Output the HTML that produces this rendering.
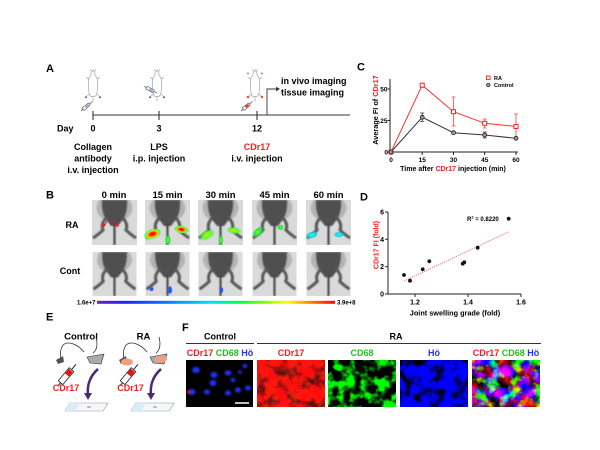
<!DOCTYPE html>
<html><head><meta charset="utf-8"><style>html,body{margin:0;padding:0;background:#fff}svg{display:block}</style></head>
<body>
<svg width="600" height="450" viewBox="0 0 600 450" xmlns="http://www.w3.org/2000/svg" font-family="Liberation Sans, Arial, sans-serif" font-weight="bold">
<defs>
  <filter id="bl" x="-20%" y="-20%" width="140%" height="140%"><feGaussianBlur stdDeviation="0.7"/></filter>
  <filter id="bl2" x="-50%" y="-50%" width="200%" height="200%"><feGaussianBlur stdDeviation="1"/></filter>
  <filter id="fR" x="0" y="0" width="1" height="1" color-interpolation-filters="sRGB">
    <feTurbulence type="fractalNoise" baseFrequency="0.09" numOctaves="3" seed="7"/>
    <feColorMatrix type="matrix" values="2.4 0 0 0 -0.3  0 0.15 0 0 0  0 0 0.1 0 0  0 0 0 0 1"/>
  </filter>
  <filter id="fG" x="0" y="0" width="1" height="1" color-interpolation-filters="sRGB">
    <feTurbulence type="fractalNoise" baseFrequency="0.09" numOctaves="3" seed="7"/>
    <feColorMatrix type="matrix" values="0 0 0 0 0  0 4.5 0 0 -1.95  0 0 0 0 0  0 0 0 0 1"/>
  </filter>
  <filter id="fB" x="0" y="0" width="1" height="1" color-interpolation-filters="sRGB">
    <feTurbulence type="fractalNoise" baseFrequency="0.09" numOctaves="3" seed="7"/>
    <feColorMatrix type="matrix" values="0 0 0 0 0  0 0 0 0 0  0 0 4 0 -1.15  0 0 0 0 1"/>
  </filter>
  <filter id="fM" x="0" y="0" width="1" height="1" color-interpolation-filters="sRGB">
    <feTurbulence type="fractalNoise" baseFrequency="0.09" numOctaves="3" seed="7"/>
    <feColorMatrix type="matrix" values="2.4 0 0 0 -0.8  0 4 0 0 -1.85  0 -1.8 3.5 0 -0.35  0 0 0 0 1"/>
  </filter>
  <linearGradient id="cbar" x1="0" x2="1" y1="0" y2="0">
    <stop offset="0" stop-color="#7020c0"/><stop offset="0.12" stop-color="#2020ff"/>
    <stop offset="0.3" stop-color="#0080ff"/><stop offset="0.48" stop-color="#00e0ff"/>
    <stop offset="0.6" stop-color="#00ff40"/><stop offset="0.7" stop-color="#80ff00"/>
    <stop offset="0.8" stop-color="#ffff00"/><stop offset="0.9" stop-color="#ff8000"/>
    <stop offset="1" stop-color="#ff0000"/>
  </linearGradient>
  <radialGradient id="hot"><stop offset="0" stop-color="#ff0000"/><stop offset="0.35" stop-color="#ff3000"/><stop offset="0.6" stop-color="#ffd000"/><stop offset="0.85" stop-color="#40ff40"/><stop offset="1" stop-color="#00ff80" stop-opacity="0"/></radialGradient>
  <radialGradient id="warm"><stop offset="0" stop-color="#ffd000"/><stop offset="0.5" stop-color="#60ff20"/><stop offset="1" stop-color="#00ff60" stop-opacity="0"/></radialGradient>
  <radialGradient id="grn"><stop offset="0" stop-color="#90ff00"/><stop offset="0.6" stop-color="#20e040"/><stop offset="1" stop-color="#00e060" stop-opacity="0"/></radialGradient>
  <radialGradient id="cy"><stop offset="0" stop-color="#40ffe0"/><stop offset="0.6" stop-color="#00d8e0"/><stop offset="1" stop-color="#00c0e0" stop-opacity="0"/></radialGradient>
  <radialGradient id="blu"><stop offset="0" stop-color="#2060ff"/><stop offset="0.6" stop-color="#2050ff"/><stop offset="1" stop-color="#2050ff" stop-opacity="0"/></radialGradient>
  <symbol id="ms" viewBox="0 0 45 45">
    <rect width="45" height="45" fill="#dadada"/>
    <g filter="url(#bl)">
      <ellipse cx="22.5" cy="8" rx="18" ry="14" fill="#9a9a9a" opacity="0.6"/>
      <path d="M10,0 H35 C36,10 33,18 29,22 L26,26 L19,26 L16,22 C12,18 9,10 10,0 Z" fill="#505050"/>
      <path d="M15,17 C11,21 9,25 11,30 C8,33 4,36 1,38" stroke="#555" stroke-width="3" fill="none"/>
      <path d="M30,17 C34,21 36,25 34,30 C37,33 41,36 44,38" stroke="#555" stroke-width="3" fill="none"/>
      <path d="M22.5,24 L22.5,45" stroke="#3a3a3a" stroke-width="2"/>
    </g>
  </symbol>
  <symbol id="mo" viewBox="0 0 20 34">
    <g fill="none" stroke="#a8a8a8" stroke-width="0.7">
      <path d="M8.5,3 C8,5 8.5,7 7,8.5 C5,10 5.5,14 5.5,18 C5.5,23 6,27 8,28.5 L12,28.5 C14,27 14.5,23 14.5,18 C14.5,14 15,10 13,8.5 C11.5,7 12,5 11.5,3 Z"/>
      <path d="M8.5,3 L7,1.3 M11.5,3 L13,1.3 M9.3,2 L10.7,2 M6,11 L3,9.5 M14,11 L17,9.5 M6.5,26 L3,29 M13.5,26 L17,29 M10,28.5 L10,33.5"/>
    </g>
    <circle cx="3" cy="29.2" r="0.8" fill="#222"/><circle cx="17" cy="29.2" r="0.8" fill="#222"/>
  </symbol>
</defs>

<!-- ============ Panel A ============ -->
<text x="46" y="72" font-size="11">A</text>
<use href="#mo" x="83" y="68" width="20" height="34"/>
<use href="#mo" x="147" y="68" width="20" height="34"/>
<use href="#mo" x="245" y="68" width="20" height="34"/>
<circle cx="248" cy="97" r="1.2" fill="#ff4020"/><circle cx="262" cy="97" r="1.2" fill="#ff4020"/>
<circle cx="248" cy="73.5" r="0.9" fill="#ff4020"/><circle cx="262" cy="73.5" r="0.9" fill="#ff4020"/>
<g transform="translate(87,106) rotate(-40)"><line x1="-8" y1="0" x2="7" y2="0" stroke="#333" stroke-width="0.6"/><rect x="-5" y="-1.5" width="8" height="3" fill="#fff" stroke="#333" stroke-width="0.5"/><rect x="-2" y="-1" width="4" height="2" fill="#8fb0e0"/></g>
<g transform="translate(151,90) rotate(28)"><line x1="-8" y1="0" x2="7" y2="0" stroke="#333" stroke-width="0.6"/><rect x="-5" y="-1.5" width="8" height="3" fill="#fff" stroke="#333" stroke-width="0.5"/><rect x="-2" y="-1" width="4" height="2" fill="#8fb0e0"/></g>
<g transform="translate(247,106) rotate(-40)"><line x1="-8" y1="0" x2="7" y2="0" stroke="#333" stroke-width="0.6"/><rect x="-5" y="-1.5" width="8" height="3" fill="#fff" stroke="#333" stroke-width="0.5"/><rect x="-2" y="-1" width="4" height="2" fill="#ff2010"/></g>
<line x1="93" y1="115" x2="350" y2="115" stroke="#333" stroke-width="1.1"/>
<g stroke="#333" stroke-width="1.1"><line x1="93" y1="111" x2="93" y2="120"/><line x1="159" y1="111" x2="159" y2="120"/><line x1="257" y1="111" x2="257" y2="120"/></g>
<path d="M267,115 V89 H277" fill="none" stroke="#333" stroke-width="0.9"/>
<polygon points="276,86.8 280,89 276,91.2" fill="#333"/>
<text x="281" y="84" font-size="9">in vivo imaging</text>
<text x="281" y="95.5" font-size="9">tissue imaging</text>
<text x="57" y="131.5" font-size="9">Day</text>
<g font-size="9" text-anchor="middle">
  <text x="93" y="131.5">0</text><text x="159" y="131.5">3</text><text x="257" y="131.5">12</text>
  <text x="93" y="150">Collagen</text><text x="93" y="161.5">antibody</text><text x="93" y="173">i.v. injection</text>
  <text x="159" y="150">LPS</text><text x="159" y="161.5">i.p. injection</text>
  <text x="257" y="150" fill="#ff1a1a">CDr17</text><text x="257" y="161.5">i.v. injection</text>
</g>

<!-- ============ Panel C ============ -->
<text x="357" y="70.5" font-size="11">C</text>
<g stroke="#222" stroke-width="1" fill="none">
  <path d="M390,79 V152 H518"/>
  <path d="M387.5,152 H390 M387.5,120.5 H390 M387.5,89 H390"/>
  <path d="M391,152 V155 M422.2,152 V155 M453.5,152 V155 M484.7,152 V155 M516,152 V155"/>
</g>
<g font-size="6.5" text-anchor="end"><text x="388" y="154.5">0</text><text x="387.5" y="123">25</text><text x="387.5" y="91.5">50</text></g>
<g font-size="6.5" text-anchor="middle"><text x="391" y="162">0</text><text x="422.2" y="162">15</text><text x="453.5" y="162">30</text><text x="484.7" y="162">45</text><text x="516" y="162">60</text></g>
<text transform="translate(378,110) rotate(-90)" font-size="7.3" text-anchor="middle">Average FI of <tspan fill="#ff1a1a">CDr17</tspan></text>
<text x="453" y="171" font-size="7" text-anchor="middle">Time after <tspan fill="#ff1a1a">CDr17</tspan> injection (min)</text>
<g stroke="#ff4040" stroke-width="0.8">
  <path d="M422.2,82.5 V88 M453.5,97 V126 M484.7,119 V128 M516,114 V139"/>
  <path d="M451.5,97 H455.5 M451.5,126 H455.5 M482.7,119 H486.7 M482.7,128 H486.7 M514,114 H518 M514,139 H518"/>
</g>
<g stroke="#333" stroke-width="0.8">
  <path d="M422.2,113 V121.5 M453.5,130.5 V135 M484.7,132 V138 M516,137 V139.5"/>
  <path d="M420.2,113 H424.2 M420.2,121.5 H424.2 M482.7,132 H486.7 M482.7,138 H486.7"/>
</g>
<polyline points="391,152 422.2,85.2 453.5,111.7 484.7,123.3 516,126.5" fill="none" stroke="#ff3030" stroke-width="1"/>
<polyline points="391,152 422.2,117.3 453.5,132.7 484.7,135 516,138.3" fill="none" stroke="#333" stroke-width="1"/>
<g fill="#fff" stroke="#ff2020" stroke-width="1">
  <rect x="389" y="150" width="4" height="4"/><rect x="420.2" y="83.2" width="4" height="4"/><rect x="451.5" y="109.7" width="4" height="4"/><rect x="482.7" y="121.3" width="4" height="4"/><rect x="514" y="124.5" width="4" height="4"/>
</g>
<g fill="#999" stroke="#222" stroke-width="0.8">
  <circle cx="391" cy="152" r="2"/><circle cx="422.2" cy="117.3" r="2"/><circle cx="453.5" cy="132.7" r="2"/><circle cx="484.7" cy="135" r="2"/><circle cx="516" cy="138.3" r="2"/>
</g>
<rect x="486.5" y="76" width="3.6" height="3.6" fill="#fff" stroke="#ff2020" stroke-width="0.9"/>
<circle cx="488.3" cy="85" r="1.8" fill="#999" stroke="#222" stroke-width="0.7"/>
<text x="494" y="80" font-size="5.5">RA</text>
<text x="494" y="87" font-size="5.5">Control</text>

<!-- ============ Panel B ============ -->
<text x="46" y="198.5" font-size="11">B</text>
<g font-size="9.5" text-anchor="middle">
  <text x="114" y="198">0 min</text><text x="167.5" y="198">15 min</text><text x="220.5" y="198">30 min</text><text x="274.5" y="198">45 min</text><text x="328.5" y="198">60 min</text>
</g>
<text x="72" y="228" font-size="9" text-anchor="middle">RA</text>
<text x="70" y="274" font-size="9" text-anchor="middle">Cont</text>
<use href="#ms" x="92" y="200" width="45" height="45"/>
<use href="#ms" x="145" y="200" width="45" height="45"/>
<use href="#ms" x="198" y="200" width="45" height="45"/>
<use href="#ms" x="252" y="200" width="45" height="45"/>
<use href="#ms" x="306" y="200" width="45" height="45"/>
<use href="#ms" x="92" y="252" width="45" height="44"/>
<use href="#ms" x="145" y="252" width="45" height="44"/>
<use href="#ms" x="198" y="252" width="45" height="44"/>
<use href="#ms" x="252" y="252" width="45" height="44"/>
<use href="#ms" x="306" y="252" width="45" height="44"/>
<g stroke="#ff1010" stroke-width="1.1" fill="#ff1010">
  <line x1="107" y1="221" x2="104" y2="226"/><polygon points="102.5,227.5 103,223.5 106,225" stroke="none"/>
  <line x1="114" y1="221" x2="117" y2="226"/><polygon points="118.5,227.5 118,223.5 115,225" stroke="none"/>
</g>
<ellipse cx="152.5" cy="234" rx="9" ry="5" fill="url(#hot)" transform="rotate(-18 152.5 234)"/>
<ellipse cx="181.5" cy="229.5" rx="7.5" ry="3.8" fill="url(#hot)" transform="rotate(10 181.5 229.5)"/>
<ellipse cx="168" cy="240" rx="3" ry="5.5" fill="url(#grn)"/>
<ellipse cx="207" cy="235" rx="9" ry="5" fill="url(#warm)" transform="rotate(-28 207 235)"/>
<ellipse cx="234" cy="230.5" rx="8" ry="3.8" fill="url(#warm)" transform="rotate(8 234 230.5)"/>
<ellipse cx="221" cy="240" rx="2.5" ry="5.5" fill="url(#grn)"/>
<ellipse cx="258" cy="232" rx="7" ry="4" fill="url(#grn)" transform="rotate(-45 258 232)"/>
<ellipse cx="280.5" cy="227.5" rx="3.5" ry="3" fill="url(#grn)"/>
<ellipse cx="312" cy="235" rx="6.5" ry="3.5" fill="url(#cy)" transform="rotate(-15 312 235)"/>
<ellipse cx="339" cy="234.5" rx="5.5" ry="3" fill="url(#cy)"/>
<ellipse cx="151.5" cy="289" rx="2.5" ry="2.5" fill="url(#blu)"/>
<ellipse cx="170" cy="290" rx="2.5" ry="4.5" fill="url(#blu)"/>
<ellipse cx="221.5" cy="290" rx="2" ry="3.5" fill="url(#blu)"/>
<rect x="97" y="300.8" width="238" height="3" fill="url(#cbar)"/>
<text x="95.5" y="304.3" font-size="6" text-anchor="end">1.6e+7</text>
<text x="337" y="304.3" font-size="6">3.9e+8</text>

<!-- ============ Panel D ============ -->
<text x="360" y="200.5" font-size="11">D</text>
<g stroke="#222" stroke-width="1" fill="none">
  <path d="M388,212 V294 H521"/>
  <path d="M385,212 H388 M385,239.3 H388 M385,266.7 H388 M385,294 H388"/>
  <path d="M415,294 V297 M468,294 V297 M521,294 V297"/>
</g>
<g font-size="7" text-anchor="end"><text x="384" y="214.5">6</text><text x="384" y="241.8">4</text><text x="384" y="269.2">2</text><text x="384" y="296.5">0</text></g>
<g font-size="7" text-anchor="middle"><text x="415" y="304.5">1.2</text><text x="468" y="304.5">1.4</text><text x="521" y="304.5">1.6</text></g>
<line x1="404" y1="281" x2="509" y2="231.7" stroke="#ff6060" stroke-width="0.9" stroke-dasharray="1.2,1"/>
<g fill="#111">
  <circle cx="404" cy="275" r="1.9"/><circle cx="410" cy="280.7" r="1.9"/><circle cx="422.7" cy="269.3" r="1.9"/><circle cx="429.3" cy="261.3" r="1.9"/>
  <circle cx="462.7" cy="263.7" r="1.9"/><circle cx="464.3" cy="262.3" r="1.9"/><circle cx="477.7" cy="247.7" r="1.9"/><circle cx="508.7" cy="218.7" r="1.9"/>
</g>
<text x="467" y="221" font-size="6">R<tspan font-size="4" dy="-2.5">2</tspan><tspan dy="2.5"> = 0.8220</tspan></text>
<text transform="translate(378.5,245) rotate(-90)" font-size="7" text-anchor="middle" fill="#ff1a1a">CDr17 FI (fold)</text>
<text x="455" y="315.5" font-size="7.3" text-anchor="middle">Joint swelling grade (fold)</text>

<!-- ============ Panel E ============ -->
<text x="46" y="320.5" font-size="11">E</text>
<text x="81" y="339.5" font-size="9.5" text-anchor="middle">Control</text>
<text x="143.5" y="339.5" font-size="9.5" text-anchor="middle">RA</text>
<g fill="none" stroke="#333" stroke-width="0.8">
  <path d="M61,360 C59,350 62,343 68,343 C74,343 80,347 84,352"/>
  <path d="M96,337 C98,345 97,350 93,353"/>
  <path d="M124,360 C122,350 125,343 131,343 C137,343 143,347 147,352"/>
  <path d="M159,337 C161,345 160,350 156,353"/>
</g>
<polygon points="56,360 63,356 64,362 58,364" fill="#555"/>
<polygon points="87,357 104,354 101,364 90,363" fill="#aaa" stroke="#333" stroke-width="0.6"/>
<polygon points="119,360 126,356 127,362 121,364" fill="#555"/>
<ellipse cx="127" cy="362" rx="6" ry="3.5" fill="#f0a080"/>
<polygon points="150,357 167,354 164,364 153,363" fill="#aaa" stroke="#333" stroke-width="0.6"/>
<ellipse cx="161" cy="359" rx="6" ry="3.5" fill="#f0a080"/>
<g transform="translate(67,375) rotate(-50)"><line x1="-14" y1="0" x2="14" y2="0" stroke="#222" stroke-width="1"/><rect x="-10" y="-3" width="17" height="6" fill="#fff" stroke="#222" stroke-width="0.8"/><rect x="0" y="-2.5" width="6" height="5" fill="#ee1010"/></g>
<g transform="translate(129,375) rotate(-50)"><line x1="-14" y1="0" x2="14" y2="0" stroke="#222" stroke-width="1"/><rect x="-10" y="-3" width="17" height="6" fill="#fff" stroke="#222" stroke-width="0.8"/><rect x="0" y="-2.5" width="6" height="5" fill="#ee1010"/></g>
<path d="M98,369 C90,376 87,385 88,395" fill="none" stroke="#4a2a78" stroke-width="2.5"/>
<polygon points="84,393 92,393 88,400" fill="#4a2a78"/>
<path d="M161,369 C153,376 150,385 151,395" fill="none" stroke="#4a2a78" stroke-width="2.5"/>
<polygon points="147,393 155,393 151,400" fill="#4a2a78"/>
<text x="66" y="391" font-size="9" text-anchor="middle" fill="#ff1a1a">CDr17</text>
<text x="130.5" y="391" font-size="9" text-anchor="middle" fill="#ff1a1a">CDr17</text>
<polygon points="70,403 108,403 103,411 65,411" fill="#f4f8fb" stroke="#999" stroke-width="0.6"/>
<polygon points="70,403 80,403 75,411 65,411" fill="#d8eef6"/>
<ellipse cx="89" cy="407" rx="2" ry="1" fill="#e0a0b0"/>
<polygon points="136,403 174,403 169,411 131,411" fill="#f4f8fb" stroke="#999" stroke-width="0.6"/>
<polygon points="136,403 146,403 141,411 131,411" fill="#d8eef6"/>
<ellipse cx="155" cy="407" rx="2" ry="1" fill="#e0a0b0"/>

<!-- ============ Panel F ============ -->
<text x="182" y="331" font-size="11">F</text>
<text x="220" y="339.5" font-size="9" text-anchor="middle">Control</text>
<text x="396" y="339.5" font-size="9" text-anchor="middle">RA</text>
<line x1="186" y1="343.5" x2="254" y2="343.5" stroke="#333" stroke-width="1"/>
<line x1="257" y1="343.5" x2="541" y2="343.5" stroke="#333" stroke-width="1"/>
<text x="220" y="356" font-size="9" text-anchor="middle"><tspan fill="#ff1a1a">CDr17</tspan> <tspan fill="#22c022">CD68</tspan> <tspan fill="#2233ff">Hö</tspan></text>
<text x="291" y="356" font-size="9" text-anchor="middle" fill="#ff1a1a">CDr17</text>
<text x="362" y="356" font-size="9" text-anchor="middle" fill="#22c022">CD68</text>
<text x="434" y="356" font-size="9" text-anchor="middle" fill="#2233ff">Hö</text>
<text x="506" y="356" font-size="9" text-anchor="middle"><tspan fill="#ff1a1a">CDr17</tspan> <tspan fill="#22c022">CD68</tspan> <tspan fill="#2233ff">Hö</tspan></text>
<rect x="186" y="360" width="67" height="47" fill="#000"/>
<g fill="#2030ff" filter="url(#bl2)">
  <ellipse cx="196" cy="370" rx="4" ry="3"/><ellipse cx="214" cy="375" rx="3.5" ry="3"/><ellipse cx="228" cy="373" rx="3.5" ry="2.5"/>
  <ellipse cx="213" cy="383" rx="3.5" ry="3"/><ellipse cx="207" cy="392" rx="3" ry="2.5"/><ellipse cx="192" cy="392" rx="3.5" ry="3"/>
  <ellipse cx="228" cy="393" rx="3" ry="2.5"/><ellipse cx="238" cy="390" rx="3" ry="2.5"/><ellipse cx="233" cy="380" rx="2.5" ry="2"/>
  <ellipse cx="248" cy="388" rx="3" ry="2.5"/><ellipse cx="245" cy="366" rx="2.5" ry="2"/><ellipse cx="240" cy="372" rx="2" ry="1.5"/>
</g>
<ellipse cx="189" cy="392" rx="1.8" ry="1.5" fill="#ff2020" filter="url(#bl2)"/>
<line x1="235" y1="403" x2="249" y2="403" stroke="#fff" stroke-width="1.5"/>
<rect x="257" y="360" width="68" height="47" fill="#000" filter="url(#fR)"/>
<rect x="328" y="360" width="68" height="47" fill="#000" filter="url(#fG)"/>
<rect x="400" y="360" width="68" height="47" fill="#000" filter="url(#fB)"/>
<rect x="472" y="360" width="68" height="47" fill="#000" filter="url(#fM)"/>
</svg>
</body></html>
